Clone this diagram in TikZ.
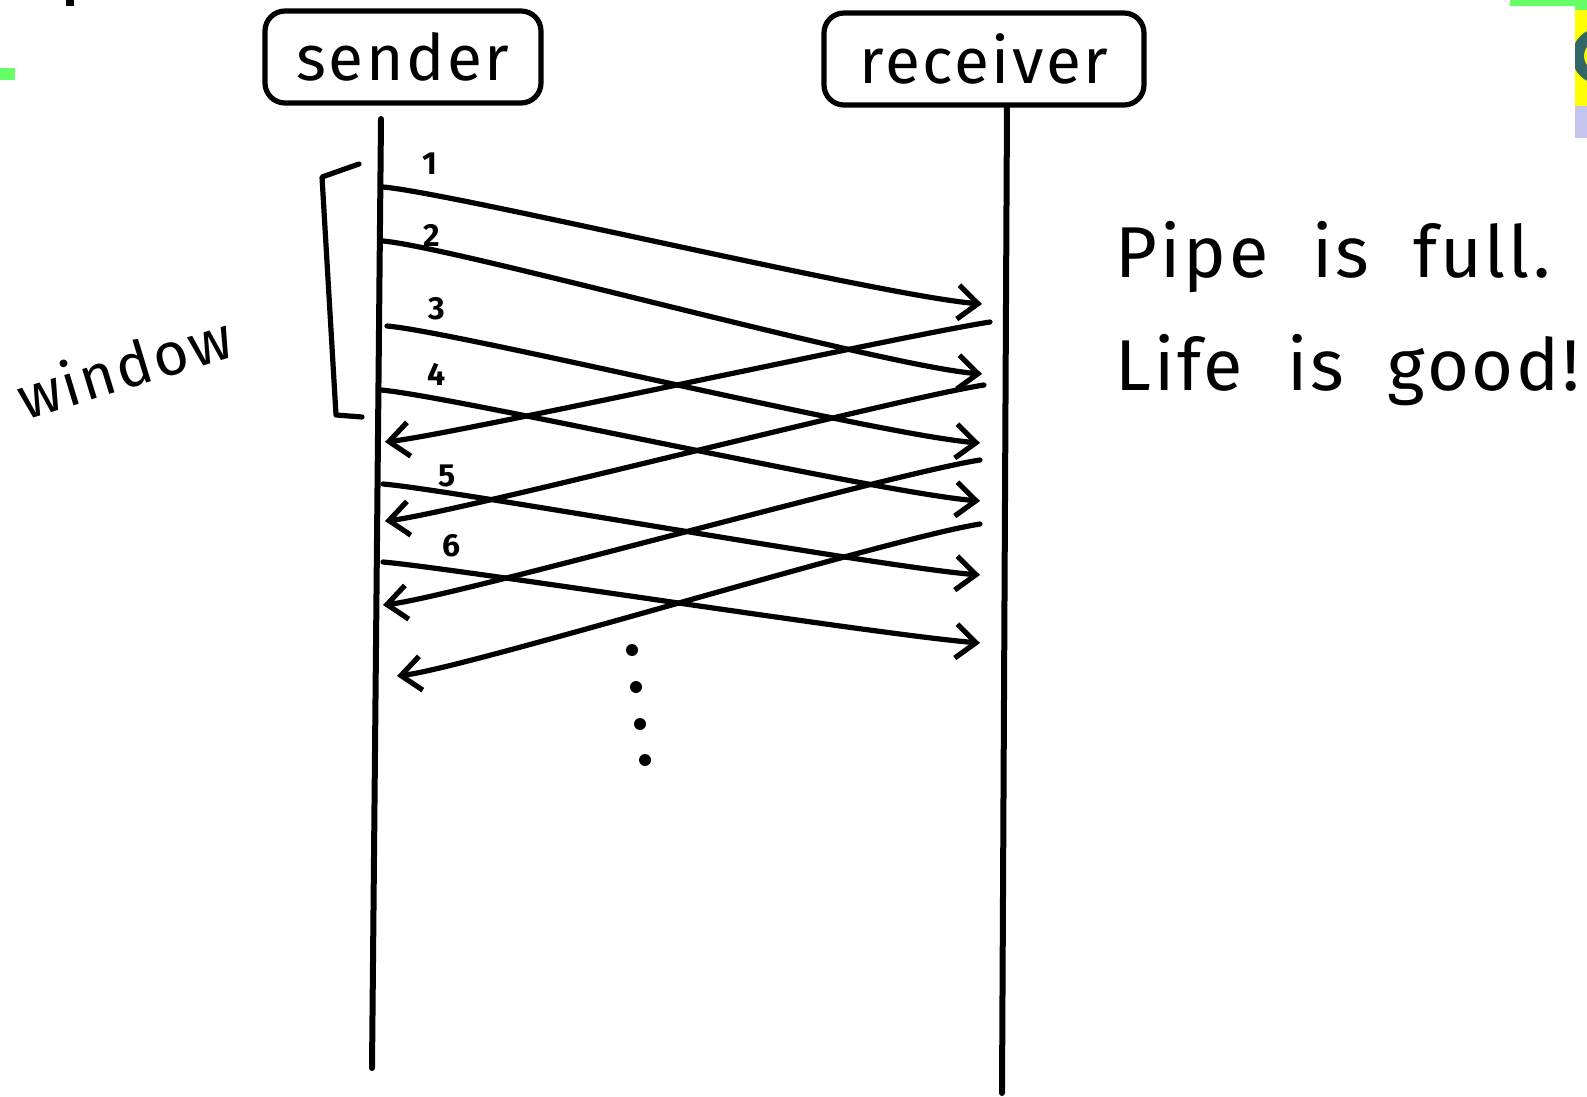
\documentclass[tikz,border=0pt]{standalone}
\usepackage{fontspec}
\setmainfont{Fira Sans}
\newfontfamily\handfont[LetterSpace=4]{Fira Sans}
\usetikzlibrary{arrows.meta}
\definecolor{slidegreen}{HTML}{66FF66}
\definecolor{slideyellow}{HTML}{FFFF00}
\definecolor{slidelilac}{HTML}{C4C4EE}
\definecolor{slideteal}{HTML}{336666}

\begin{document}
\begin{tikzpicture}[
  x=0.5pt, y=-0.5pt,
  line width=2.6pt, line cap=round, line join=round,
  every node/.style={inner sep=0pt, font=\handfont\fontsize{32}{36}\selectfont},
  actor/.style={draw, rounded corners=10pt, line width=2.6pt, minimum height=46pt},
  seqno/.style={font=\handfont\bfseries\fontsize{16}{18}\selectfont},
  msg/.style={-{Straight Barb[length=10pt,width=17pt]}},
  note/.style={anchor=base west, font=\handfont\fontsize{36}{40}\selectfont}
]
\useasboundingbox (0,0) rectangle (1587,1097);
% bits of the slide at the edges
\fill[slidegreen] (0,68) rectangle (15,80);
\fill[slidegreen] (1510,0) rectangle (1587,6);
\fill[slidegreen] (1575,6) rectangle (1587,10);
\fill[slideyellow] (1575,10) rectangle (1587,106);
\fill[slidelilac] (1575,106) rectangle (1587,138);
\fill (66,0) rectangle (74,6);
\begin{scope}
  \clip (1575,10) rectangle (1587,106);
  \draw[slideteal, line width=6pt] (1600,56) circle[radius=22];
\end{scope}

% hosts
\node[actor, minimum width=138pt] (sender) at (403,57) {sender};
\node[actor, minimum width=160pt] (receiver) at (984,59) {receiver};

% lifelines
\coordinate (sTop) at (381,119);
\coordinate (sBot) at (372,1068);
\coordinate (rTop) at (1007,106);
\coordinate (rBot) at (1002,1093);
\draw[line width=3pt] (sTop) -- (sBot);
\draw[line width=3pt] (rTop) -- (rBot);

% window
\draw (359,164) -- (322,177) -- (336,415) -- (362,417);
\node[rotate=17, font=\handfont\fontsize{30}{34}\selectfont] (window) at (124,366) {window};

% packets
\coordinate (s1) at (383,187); \coordinate (r1) at (982,304);
\coordinate (s2) at (383,241); \coordinate (r2) at (982,374);
\coordinate (s3) at (387,326); \coordinate (r3) at (980,443);
\coordinate (s4) at (381,390); \coordinate (r4) at (980,501);
\coordinate (s5) at (383,484); \coordinate (r5) at (980,575);
\coordinate (s6) at (383,562); \coordinate (r6) at (980,643);
\draw[msg] (s1) .. controls +(70,6) and +(-100,-8) .. (r1);
\draw[msg] (s2) .. controls +(70,6) and +(-100,-8) .. (r2);
\draw[msg] (s3) .. controls +(70,6) and +(-100,-8) .. (r3);
\draw[msg] (s4) .. controls +(70,6) and +(-100,-8) .. (r4);
\draw[msg] (s5) .. controls +(70,6) and +(-100,-8) .. (r5);
\draw[msg] (s6) .. controls +(70,6) and +(-100,-8) .. (r6);
\node[seqno] (n1) at (430,164) {1};
\node[seqno] (n2) at (432,235) {2};
\node[seqno] (n3) at (437,309) {3};
\node[seqno] (n4) at (437,374) {4};
\node[seqno] (n5) at (447,476) {5};
\node[seqno] (n6) at (452,546) {6};

% acks
\coordinate (ra1) at (990,322); \coordinate (sa1) at (385,442);
\coordinate (ra2) at (984,385); \coordinate (sa2) at (385,521);
\coordinate (ra3) at (980,460); \coordinate (sa3) at (383,605);
\coordinate (ra4) at (980,524); \coordinate (sa4) at (397,676);
\draw[msg] (ra1) .. controls +(-90,14) and +(70,-8) .. (sa1);
\draw[msg] (ra2) .. controls +(-90,14) and +(70,-8) .. (sa2);
\draw[msg] (ra3) .. controls +(-90,14) and +(70,-8) .. (sa3);
\draw[msg] (ra4) .. controls +(-90,14) and +(70,-8) .. (sa4);

% more to come
\foreach \p in {(632,650),(636,687),(640,724),(645,760)}
  \fill \p circle[radius=6];

\node[note] (pipe) at (1113,278) {Pipe\hspace{22pt}is\hspace{22pt}full.};
\node[note] (life) at (1113,390) {Life\hspace{22pt}is\hspace{22pt}good!};
\end{tikzpicture}
\end{document}
